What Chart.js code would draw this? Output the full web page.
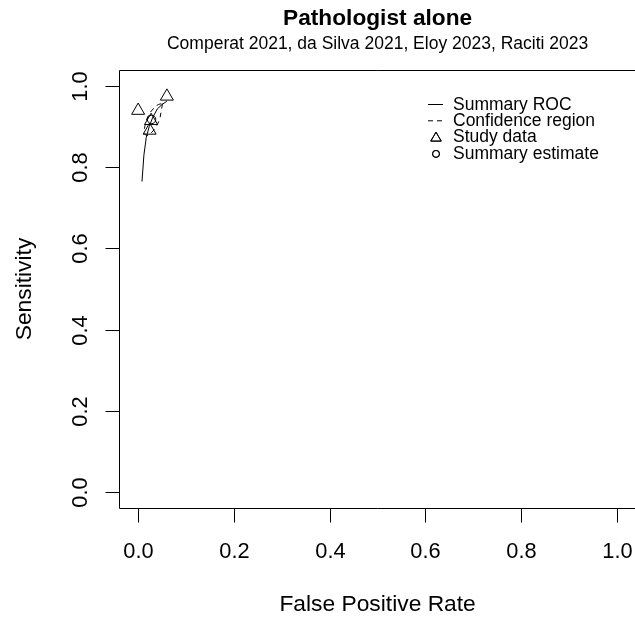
<!DOCTYPE html>
<html>
<head>
<meta charset="utf-8">
<script src="https://cdn.jsdelivr.net/npm/chart.js@4.4.1/dist/chart.umd.min.js"></script>
<style>
  html, body { margin: 0; padding: 0; background: #fff; }
  #wrap { width: 635px; height: 619px; }
</style>
</head>
<body>
<div id="wrap"><canvas id="sroc" width="635" height="619"></canvas></div>
<script>
// Values
const studyFpr = [0.0, 0.06, 0.024, 0.027];
const studySens = [0.94, 0.975, 0.891, 0.915];

const summaryFpr = [0.028];
const summarySens = [0.918];

// summary ROC curve (drawn over the observed FPR range)
const rocFpr = [0.008, 0.012, 0.017, 0.023, 0.03, 0.04, 0.05, 0.06];
const rocSens = [0.765, 0.83, 0.874, 0.9, 0.922, 0.944, 0.955, 0.963];

// 95% confidence region outline
const regionFpr = [0.0508, 0.0487, 0.0445, 0.0361, 0.0257, 0.0173, 0.0132, 0.0153, 0.0215, 0.032, 0.0424, 0.0508];
const regionSens = [0.957, 0.9425, 0.9178, 0.898, 0.8832, 0.8783, 0.8881, 0.9079, 0.9277, 0.9449, 0.9548, 0.957];

const xTicks = [0, 0.2, 0.4, 0.6, 0.8, 1.0];
const yTicks = [0, 0.2, 0.4, 0.6, 0.8, 1.0];

const legendLabels = ['Summary ROC', 'Confidence region', 'Study data', 'Summary estimate'];

const titleText = 'Pathologist alone';
const subtitleText = 'Comperat 2021, da Silva 2021, Eloy 2023, Raciti 2023';
const xTitle = 'False Positive Rate';
const yTitle = 'Sensitivity';

const FONT = "'Liberation Sans', Arial, sans-serif";
Chart.defaults.font.family = FONT;

const toXY = (xs, ys) => xs.map((x, i) => ({ x: x, y: ys[i] }));

// frame, ticks, titles and legend in the R base-graphics look
const frame = {
    id: 'frame',
    afterDraw(chart) {
        const { ctx, chartArea: a, scales } = chart;
        const xs = scales.x, ys = scales.y;
        const L = Math.round(a.left) + 0.5, T = Math.round(a.top) + 0.5, B = Math.round(a.bottom) + 0.5;
        const R = chart.width + 2;

        ctx.save();
        ctx.strokeStyle = '#000';
        ctx.lineWidth = 1;
        ctx.beginPath();
        ctx.moveTo(R, T); ctx.lineTo(L, T); ctx.lineTo(L, B); ctx.lineTo(R, B);
        ctx.stroke();

        // x axis
        ctx.fillStyle = '#000';
        ctx.font = '21.8px ' + FONT;
        ctx.textAlign = 'center';
        ctx.textBaseline = 'alphabetic';
        xTicks.forEach(v => {
            const px = Math.round(xs.getPixelForValue(v)) + 0.5;
            ctx.beginPath(); ctx.moveTo(px, B); ctx.lineTo(px, B + 14); ctx.stroke();
            ctx.fillText(v.toFixed(1), px, B + 49);
        });

        // y axis, labels parallel to the axis
        yTicks.forEach(v => {
            const py = Math.round(ys.getPixelForValue(v)) + 0.5;
            ctx.beginPath(); ctx.moveTo(L - 14, py); ctx.lineTo(L, py); ctx.stroke();
            ctx.save();
            ctx.translate(L - 33, py);
            ctx.rotate(-Math.PI / 2);
            ctx.fillText(v.toFixed(1), 0, 0);
            ctx.restore();
        });

        const cx = (a.left + xs.getPixelForValue(1.04)) / 2;

        // titles
        ctx.font = 'bold 22.7px ' + FONT;
        ctx.fillText(titleText, cx, 25);
        ctx.font = '17.5px ' + FONT;
        ctx.fillText(subtitleText, cx, 48.5);

        ctx.font = '22.8px ' + FONT;
        ctx.fillText(xTitle, cx, 611);
        ctx.save();
        ctx.translate(31, (a.top + a.bottom) / 2);
        ctx.rotate(-Math.PI / 2);
        ctx.fillText(yTitle, 0, 0);
        ctx.restore();

        // legend
        const lx = 428, tx = 453, rowY = [104, 120.3, 136.6, 152.9];
        ctx.font = '17.5px ' + FONT;
        ctx.textAlign = 'left';
        ctx.textBaseline = 'middle';
        legendLabels.forEach((lab, i) => ctx.fillText(lab, tx, rowY[i] + 1));

        ctx.beginPath(); ctx.moveTo(lx, rowY[0] + 0.5); ctx.lineTo(lx + 15, rowY[0] + 0.5); ctx.stroke();
        ctx.setLineDash([5, 4]);
        ctx.beginPath(); ctx.moveTo(lx, rowY[1] + 0.5); ctx.lineTo(lx + 16, rowY[1] + 0.5); ctx.stroke();
        ctx.setLineDash([]);

        ctx.fillStyle = 'rgba(0,0,0,0)';
        Chart.helpers.drawPoint(ctx, { pointStyle: 'triangle', radius: 6, borderWidth: 1, rotation: 0 }, lx + 8, rowY[2] + 1.5);
        ctx.stroke();
        Chart.helpers.drawPoint(ctx, { pointStyle: 'circle', radius: 3.5, borderWidth: 1, rotation: 0 }, lx + 8, rowY[3] + 1);
        ctx.stroke();
        ctx.restore();
    }
};

new Chart(document.getElementById('sroc'), {
    type: 'scatter',
    data: {
        datasets: [{
            label: 'Summary ROC',
            data: toXY(rocFpr, rocSens),
            showLine: true,
            borderColor: '#000',
            borderWidth: 1,
            pointRadius: 0,
            tension: 0
        }, {
            label: 'Confidence region',
            data: toXY(regionFpr, regionSens),
            showLine: true,
            borderColor: '#000',
            borderWidth: 1,
            borderDash: [5, 4],
            pointRadius: 0,
            tension: 0.4
        }, {
            label: 'Study data',
            data: toXY(studyFpr, studySens),
            pointStyle: 'triangle',
            pointRadius: 7.5,
            borderColor: '#000',
            borderWidth: 1,
            backgroundColor: 'rgba(0,0,0,0)'
        }, {
            label: 'Summary estimate',
            data: toXY(summaryFpr, summarySens),
            pointStyle: 'circle',
            pointRadius: 4.2,
            borderColor: '#000',
            borderWidth: 1,
            backgroundColor: 'rgba(0,0,0,0)'
        }]
    },
    options: {
        responsive: false,
        devicePixelRatio: 1,
        animation: false,
        layout: { autoPadding: false, padding: { left: 119, top: 70, right: 0, bottom: 111 } },
        plugins: {
            legend: { display: false },
            tooltip: { enabled: false }
        },
        scales: {
            x: { type: 'linear', display: false, min: -0.04, max: 1.0375 },
            y: { type: 'linear', display: false, min: -0.04, max: 1.04 }
        }
    },
    plugins: [frame]
});
</script>
</body>
</html>
